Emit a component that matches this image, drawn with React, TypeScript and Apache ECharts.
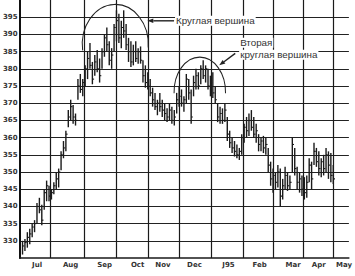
import React, { useEffect, useRef } from 'react';
import * as echarts from 'echarts';

// Month labels and their positions on the day scale (1 unit ≈ 1 calendar day)
const MONTHS = ['Jul', 'Aug', 'Sep', 'Oct', 'Nov', 'Dec', 'J95', 'Feb', 'Mar', 'Apr', 'May'];
const MONTH_LABEL_POS = [18, 52.5, 87.5, 121.5, 147.5, 180, 215, 247, 281.5, 308, 334];
const MONTH_BOUNDS = [32, 67, 99, 132, 164, 197, 230, 261, 292, 323];
const Y_TICKS = [330, 335, 340, 345, 350, 355, 360, 365, 370, 375, 380, 385, 390, 395];

// Bars: first bar position and spacing on the day scale
const FIRST_BAR = 3;
const BAR_STEP = 2.48;

const HIGH = [
  330, 330.5, 332.5, 333.5, 335, 336, 341, 342.5, 340.5, 345,
  347.5, 346, 345, 347, 350, 351, 356, 359, 362, 368,
  371, 369.5, 367, 377, 378.5, 377, 381, 385, 387.5, 382,
  384, 385.5, 383, 386, 390, 392, 388, 386, 393, 397,
  396, 394, 397, 393, 389, 388, 387, 388, 386, 386.5,
  382.5, 381, 379, 377, 374.5, 373, 371, 373, 371, 370,
  368.5, 370, 369, 368, 373, 375, 374, 372, 378.5, 377,
  374, 378, 380, 379, 381, 382.5, 381, 380, 378, 379,
  375, 370, 369, 368.5, 370, 366, 362, 360, 359, 358,
  357, 361, 364, 366, 367, 368, 366, 364, 361, 360,
  360.5, 360, 357, 353, 351, 350, 352, 351, 348, 351.5,
  350, 349, 360, 357, 351.5, 350, 349, 348.5, 349, 354,
  353, 358.5, 357, 356, 354, 355, 357, 356, 355.5, 352,
];
const LOW = [
  326, 327, 328, 329, 331, 332.5, 335, 338, 334.5, 339,
  341.5, 341.5, 342, 343.5, 345, 345.5, 350.5, 354, 356, 363,
  365, 364, 363.5, 371, 373, 372, 375, 377, 380, 375.5,
  378, 379, 376, 380, 383.5, 385, 381, 380, 385, 388,
  387.5, 386, 389, 385.5, 382, 380.5, 381, 382, 381.5, 381.5,
  376, 374.5, 374, 372, 369, 368, 366.5, 367.5, 366, 365,
  364.5, 365, 364, 363.5, 367, 369, 369, 367.5, 370, 371,
  364, 372, 374, 374, 375.5, 377, 376, 374, 372, 371.5,
  370, 364.5, 364, 364, 364.5, 359, 357, 355.5, 354.5, 354,
  353.5, 355, 358.5, 360, 360.5, 362, 360, 358.5, 356, 356,
  355.5, 355, 350, 346, 344, 345, 345.5, 340, 342, 345,
  344.5, 345, 350, 349, 345, 344, 343, 342, 342.5, 347,
  345, 352, 351.5, 349, 348.5, 349, 350, 348, 347, 346.5,
];
const CLOSE = [
  328.5, 329.5, 331, 332, 334, 335, 340, 339, 336, 344,
  346, 343, 344, 346, 348, 350, 355, 357, 361, 366,
  369, 366, 365, 375, 374, 376, 380, 383, 381, 377,
  382, 380, 378, 385, 389, 387, 382.5, 384, 392, 394,
  389, 392, 391, 387, 385, 382, 385, 383, 385, 382.5,
  378, 376, 375, 373, 371, 369, 370, 369, 368, 367,
  366, 368, 365, 366, 371, 372, 370, 371, 377, 373,
  366, 376, 378, 375, 380, 378, 380, 375, 376, 373,
  371, 366, 367, 365, 368, 361, 358.5, 357, 356, 355,
  356, 360, 363, 362, 365, 363, 361, 362, 358, 359,
  357, 358, 352, 348, 349, 347, 350, 343, 346, 349,
  346, 347, 358, 351, 347, 348, 345, 344, 347, 352,
  348, 356, 353, 351, 353, 351, 355, 352, 349, 348,
];

// Annotations in data coordinates
const ARCS = [
  { cx: 98.5, cy: 387.1, rx: 34, ry: 11.6, a0: 0.15, a1: 0.08 },
  { cx: 185.5, cy: 373.2, rx: 26.5, ry: 10.2, a0: 0.03, a1: 0.03 },
];
const ARROWS = [
  { from: [159, 393.95], to: [131.5, 393.95] },
  { from: [222, 384.5], to: [205.5, 381.0] },
];
const LABELS = [
  { x: 160, y: 393.95, text: 'Круглая вершина' },
  { x: 226, y: 387.6, text: 'Вторая' },
  { x: 226, y: 384.1, text: 'круглая вершина' },
];

const INK = '#1a1a1a';

export default function App() {
  const ref = useRef<HTMLDivElement>(null);
  useEffect(() => {
    const chart = echarts.init(ref.current!, null, { renderer: 'svg' });
    const bars = HIGH.map((h, i) => [FIRST_BAR + i * BAR_STEP, h, LOW[i], CLOSE[i]]);
    chart.setOption({
      animation: false,
      backgroundColor: '#fff',
      grid: { left: 16, right: 0, top: 0, bottom: 18 },
      xAxis: {
        type: 'value',
        min: 0,
        max: 339,
        axisLine: { show: true, onZero: false, lineStyle: { color: INK, width: 1.5 } },
        axisTick: { show: false, customValues: MONTH_BOUNDS },
        axisLabel: {
          customValues: MONTH_LABEL_POS,
          formatter: (v: number) => {
            let best = 0;
            MONTH_LABEL_POS.forEach((p, i) => {
              if (Math.abs(p - v) < Math.abs(MONTH_LABEL_POS[best] - v)) best = i;
            });
            return MONTHS[best];
          },
          fontSize: 7,
          fontWeight: 'bold',
          fontFamily: 'DejaVu Sans',
          color: '#333',
          margin: 3,
          hideOverlap: false,
        },
        splitLine: { show: true, lineStyle: { color: INK, width: 1.2 } },
      },
      yAxis: {
        type: 'value',
        min: 325,
        max: 400,
        axisLine: { show: true, lineStyle: { color: '#111', width: 2 } },
        axisTick: { show: false, customValues: Y_TICKS },
        axisLabel: {
          customValues: Y_TICKS,
          fontSize: 7,
          fontWeight: 'bold',
          fontFamily: 'DejaVu Sans',
          color: '#333',
          margin: 2,
        },
        splitLine: { show: true, lineStyle: { color: '#222', width: 1.1 } },
      },
      series: [
        {
          type: 'custom',
          data: bars,
          encode: { x: 0, y: [1, 2, 3] },
          clip: true,
          renderItem: (params: any, api: any) => {
            const x = api.value(0);
            const top = api.coord([x, api.value(1)]);
            const bot = api.coord([x, api.value(2)]);
            const cl = api.coord([x, api.value(3)]);
            return {
              type: 'group',
              children: [
                {
                  type: 'line',
                  shape: { x1: top[0], y1: top[1], x2: bot[0], y2: bot[1] },
                  style: { stroke: INK, lineWidth: 1.4 },
                },
                {
                  type: 'line',
                  shape: { x1: cl[0], y1: cl[1], x2: cl[0] + 1.7, y2: cl[1] },
                  style: { stroke: INK, lineWidth: 1.1 },
                },
              ],
            };
          },
        },
      ],
    });

    const toPx = (p: number[]) => chart.convertToPixel({ gridIndex: 0 }, p) as number[];
    const graphics: any[] = [];
    ARCS.forEach((a) => {
      const c = toPx([a.cx, a.cy]);
      const e = toPx([a.cx + a.rx, a.cy + a.ry]);
      const rxp = e[0] - c[0];
      const ryp = c[1] - e[1];
      graphics.push({
        type: 'arc',
        x: c[0],
        y: c[1],
        scaleY: ryp / rxp,
        shape: { cx: 0, cy: 0, r: rxp, startAngle: Math.PI - a.a0, endAngle: 2 * Math.PI + a.a1, clockwise: true },
        style: { stroke: '#222', lineWidth: 1, fill: 'none', strokeNoScale: true },
        z: 100,
      });
    });
    ARROWS.forEach((ar) => {
      const f = toPx(ar.from);
      const t = toPx(ar.to);
      const dx = t[0] - f[0];
      const dy = t[1] - f[1];
      const len = Math.sqrt(dx * dx + dy * dy);
      const ux = dx / len;
      const uy = dy / len;
      const hl = 6;
      const hw = 2.3;
      const bx = t[0] - ux * hl;
      const by = t[1] - uy * hl;
      graphics.push({
        type: 'line',
        shape: { x1: f[0], y1: f[1], x2: bx, y2: by },
        style: { stroke: '#222', lineWidth: 1.4 },
        z: 100,
      });
      graphics.push({
        type: 'polygon',
        shape: {
          points: [
            [t[0], t[1]],
            [bx - uy * hw, by + ux * hw],
            [bx + uy * hw, by - ux * hw],
          ],
        },
        style: { fill: '#222' },
        z: 100,
      });
    });
    LABELS.forEach((l) => {
      const p = toPx([l.x, l.y]);
      graphics.push({
        type: 'text',
        x: p[0],
        y: p[1],
        style: {
          text: l.text,
          fill: '#333',
          fontSize: 9.8,
          fontFamily: 'Liberation Sans',
          align: 'left',
          verticalAlign: 'middle',
          backgroundColor: '#fff',
          padding: [0, 1],
        },
        z: 101,
      });
    });
    chart.setOption({ graphic: graphics });

    return () => chart.dispose();
  }, []);
  return (
    <div
      ref={ref}
      style={{ position: 'fixed', left: 0, top: 0, width: 355, height: 276, background: '#fff' }}
    />
  );
}
